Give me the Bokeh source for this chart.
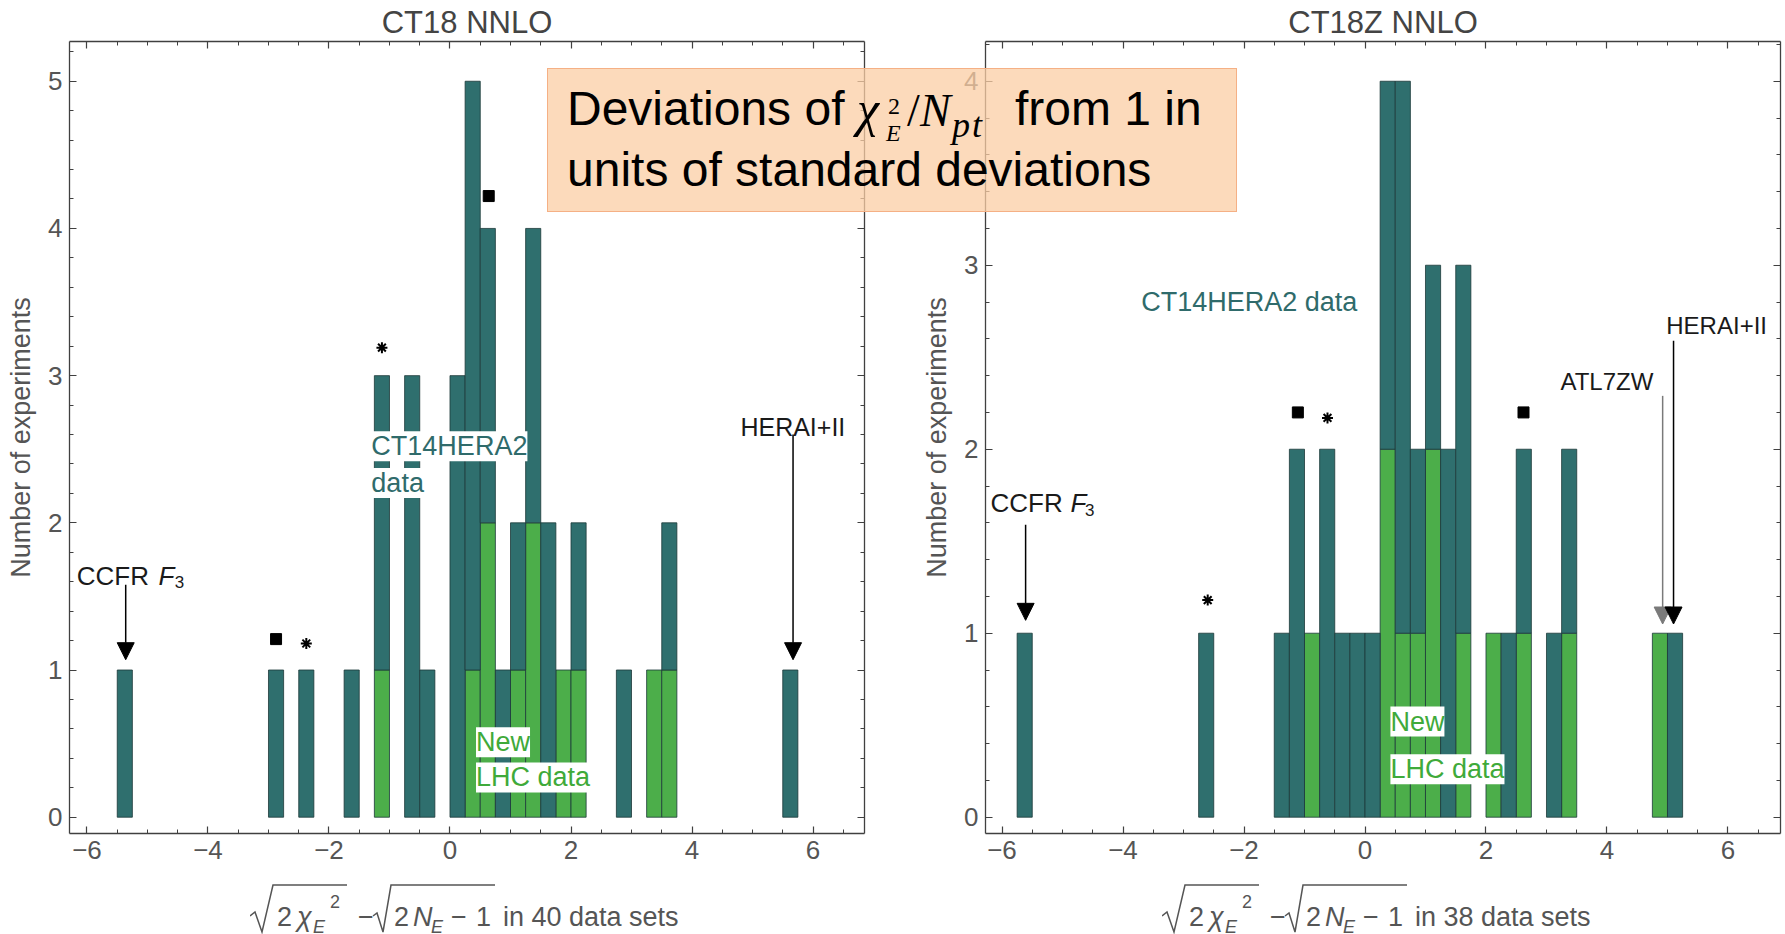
import numpy as np
from bokeh.plotting import figure
from bokeh.models import (LinearAxis, Range1d, Label, Arrow, NormalHead, Div,
                          SingleIntervalTicker, ColumnDataSource)
from bokeh.layouts import row
from bokeh.embed import file_html
from bokeh.resources import INLINE

# ---------------- data ----------------
BIN_WIDTH = 0.25

# CT18 NNLO : left edge of each 0.25-wide bin, number of experiments, of which new LHC data
ct18_bin_left = [-5.5, -3.0, -2.5, -1.75, -1.25, -0.75, -0.5, 0.0, 0.25, 0.5,
                 0.75, 1.0, 1.25, 1.5, 1.75, 2.0, 2.75, 3.25, 3.5, 5.5]
ct18_total = [1, 1, 1, 1, 3, 3, 1, 3, 5, 4, 1, 2, 4, 2, 1, 2, 1, 1, 2, 1]
ct18_new_lhc = [0, 0, 0, 0, 1, 0, 0, 0, 1, 2, 0, 1, 2, 0, 1, 1, 0, 1, 1, 0]
ct18_square_x = [-2.875, 0.64]
ct18_square_y = [1.21, 4.22]
ct18_star_x = [-2.375, -1.125]
ct18_star_y = [1.18, 3.19]

# CT18Z NNLO
ct18z_bin_left = [-5.75, -2.75, -1.5, -1.25, -1.0, -0.75, -0.5, -0.25, 0.0, 0.25, 0.5,
                  0.75, 1.0, 1.25, 1.5, 2.0, 2.25, 2.5, 3.0, 3.25, 4.75, 5.0]
ct18z_total = [1, 1, 1, 2, 1, 2, 1, 1, 1, 4, 4, 2, 3, 2, 3, 1, 1, 2, 1, 2, 1, 1]
ct18z_new_lhc = [0, 0, 0, 0, 1, 0, 0, 0, 0, 2, 1, 1, 2, 0, 1, 1, 0, 1, 0, 1, 1, 0]
ct18z_square_x = [-1.11, 2.62]
ct18z_square_y = [2.2, 2.2]
ct18z_star_x = [-2.6, -0.62]
ct18z_star_y = [1.18, 2.17]

# annotation texts: (text, x, y, size, color, italic, white background)
ct18_texts = [
    ("CCFR", -6.17, 1.64, 26, "#1a1a1a", False, False),
    ("F", -4.82, 1.64, 26, "#1a1a1a", True, False),
    ("3", -4.55, 1.60, 17, "#1a1a1a", False, False),
    ("HERAI+II", 4.80, 2.65, 25, "#1a1a1a", False, False),
    ("CT14HERA2", -1.30, 2.52, 27, "#2f6b6b", False, True),
    ("data", -1.30, 2.27, 27, "#2f6b6b", False, True),
    ("New", 0.43, 0.51, 27, "#3faa3a", False, True),
    ("LHC data", 0.43, 0.27, 27, "#3faa3a", False, True),
]
ct18_arrows = [(-5.36, 1.58, 1.07, "black"), (5.67, 2.60, 1.07, "black")]

ct18z_texts = [
    ("CCFR", -6.19, 1.71, 26, "#1a1a1a", False, False),
    ("F", -4.87, 1.71, 26, "#1a1a1a", True, False),
    ("3", -4.63, 1.67, 17, "#1a1a1a", False, False),
    ("ATL7ZW", 3.23, 2.37, 24, "#1a1a1a", False, False),
    ("HERAI+II", 4.98, 2.67, 24, "#1a1a1a", False, False),
    ("CT14HERA2 data", -3.70, 2.80, 27, "#2f6b6b", False, False),
    ("New", 0.42, 0.52, 27, "#3faa3a", False, True),
    ("LHC data", 0.42, 0.26, 27, "#3faa3a", False, True),
]
ct18z_arrows = [(-5.61, 1.59, 1.07, "black"), (4.92, 2.29, 1.05, "#7a7a7a"),
                (5.10, 2.59, 1.05, "black")]

# ---------------- style ----------------
TEAL = "#2f6f6e"
GREEN = "#4cae4a"
EDGE = "#1d3a3a"
FONT = "Liberation Sans"
AXC = "#404040"
LBL = "#555555"
H = 934
FT, FB = 41, 833          # frame top / bottom in page pixels


def style_axis(ax, labels=True):
    ax.major_tick_in = 7
    ax.major_tick_out = 0
    ax.minor_tick_in = 4
    ax.minor_tick_out = 0
    ax.axis_line_color = AXC
    ax.axis_line_width = 1.3
    ax.major_tick_line_color = AXC
    ax.minor_tick_line_color = AXC
    ax.major_tick_line_width = 1.2
    if labels:
        ax.major_label_text_font = FONT
        ax.major_label_text_font_size = "26px"
        ax.major_label_text_color = LBL
        ax.major_label_standoff = 7
    else:
        ax.major_label_text_font_size = "1px"
        ax.major_label_text_color = None
        ax.major_label_standoff = 0


def make_panel(cfg):
    xr, yr = cfg["xr"], cfg["yr"]
    p = figure(width=cfg["w"], height=H, x_range=Range1d(*xr), y_range=Range1d(*yr),
               output_backend="svg", toolbar_location=None, tools="",
               min_border_left=cfg["mbl"], min_border_right=cfg["mbr"],
               min_border_top=FT, min_border_bottom=H - FB,
               background_fill_color="white", border_fill_color="white",
               outline_line_color=None)
    p.grid.visible = False

    p.xaxis[0].ticker = SingleIntervalTicker(interval=2, num_minor_ticks=4)
    p.yaxis[0].ticker = SingleIntervalTicker(interval=1, num_minor_ticks=5)
    style_axis(p.xaxis[0])
    style_axis(p.yaxis[0])
    p.xaxis[0].axis_label = None
    ya = p.yaxis[0]
    ya.axis_label = "Number of experiments"
    ya.axis_label_text_font = FONT
    ya.axis_label_text_font_size = "27px"
    ya.axis_label_text_font_style = "normal"
    ya.axis_label_text_color = LBL
    ya.axis_label_standoff = 9

    top = LinearAxis(ticker=SingleIntervalTicker(interval=2, num_minor_ticks=4))
    style_axis(top, labels=False)
    p.add_layout(top, "above")
    rgt = LinearAxis(ticker=SingleIntervalTicker(interval=1, num_minor_ticks=5))
    style_axis(rgt, labels=False)
    p.add_layout(rgt, "right")

    p.title.text = cfg["title"]
    p.title.align = "center"
    p.title.text_font = FONT
    p.title.text_font_size = "31px"
    p.title.text_font_style = "normal"
    p.title.text_color = "#444444"
    p.title.standoff = 3

    # bars: new LHC data at the bottom, CT14HERA2 data stacked on top
    left = np.array(cfg["bins"], dtype=float)
    total = np.array(cfg["total"], dtype=float)
    new = np.array(cfg["new"], dtype=float)
    m_new = new > 0
    m_old = total > new
    src_new = ColumnDataSource(dict(left=left[m_new], right=left[m_new] + BIN_WIDTH,
                                    top=new[m_new]))
    src_old = ColumnDataSource(dict(left=left[m_old], right=left[m_old] + BIN_WIDTH,
                                    bottom=new[m_old], top=total[m_old]))
    p.quad(left="left", right="right", bottom=0, top="top", source=src_new,
           fill_color=GREEN, line_color=EDGE, line_width=1, line_alpha=0.8)
    p.quad(left="left", right="right", bottom="bottom", top="top", source=src_old,
           fill_color=TEAL, line_color=EDGE, line_width=1, line_alpha=0.8)

    # markers
    p.scatter(cfg["sq_x"], cfg["sq_y"], marker="square", size=11,
              fill_color="black", line_color="black")
    p.scatter(cfg["st_x"], cfg["st_y"], marker="asterisk", size=11,
              line_color="black", line_width=2)

    # texts
    for (t, x, y, s, c, it, bg) in cfg["texts"]:
        lab = Label(x=x, y=y, text=t, text_font=FONT, text_font_size=f"{s}px",
                    text_color=c, text_baseline="alphabetic", text_align="left",
                    text_font_style="italic" if it else "normal")
        if bg:
            lab.background_fill_color = "white"
            lab.background_fill_alpha = 1.0
        p.add_layout(lab)

    # arrows
    for (x, y0, y1, c) in cfg["arrows"]:
        p.add_layout(Arrow(end=NormalHead(size=17, fill_color=c, line_color=c),
                           x_start=x, y_start=y0, x_end=x, y_end=y1,
                           line_color=c, line_width=1.5))
    return p


left_cfg = dict(title="CT18 NNLO", w=915, mbl=69, mbr=51,
                xr=(-6.289, 6.851), yr=(-0.1107, 5.270),
                bins=ct18_bin_left, total=ct18_total, new=ct18_new_lhc,
                sq_x=ct18_square_x, sq_y=ct18_square_y,
                st_x=ct18_star_x, st_y=ct18_star_y,
                texts=ct18_texts, arrows=ct18_arrows)
right_cfg = dict(title="CT18Z NNLO", w=870, mbl=70, mbr=5,
                 xr=(-6.273, 6.868), yr=(-0.0886, 4.216),
                 bins=ct18z_bin_left, total=ct18z_total, new=ct18z_new_lhc,
                 sq_x=ct18z_square_x, sq_y=ct18z_square_y,
                 st_x=ct18z_star_x, st_y=ct18z_star_y,
                 texts=ct18z_texts, arrows=ct18z_arrows)

p1 = make_panel(left_cfg)
p2 = make_panel(right_cfg)

# ---------------- HTML overlay: caption box and x-axis formulas ----------------
SANS = "'Liberation Sans', Arial, sans-serif"
SERIF = "'Liberation Serif', 'Times New Roman', serif"


def span(txt, left, baseline, fs, fam, italic=False, color="#000", extra=""):
    asc = 0.846 if fam == SANS else 0.838
    top = baseline - asc * fs
    st = "font-style:italic;" if italic else ""
    return (f'<span style="position:absolute;left:{left}px;top:{top:.1f}px;'
            f'font-size:{fs}px;line-height:1;font-family:{fam};{st}'
            f'white-space:nowrap;color:{color};{extra}">{txt}</span>')


caption_inner = "".join([
    span("Deviations of", 19, 57, 48, SANS),
    span("χ", 309, 57, 50, SERIF, True),
    span("2", 340, 45, 24, SERIF),
    span("E", 338, 72, 24, SERIF, True),
    span("/", 359, 57, 46, SERIF),
    span("N", 372, 57, 46, SERIF, True),
    span("pt", 404, 68, 36, SERIF, True, extra="letter-spacing:2px;"),
    span("from 1 in", 467, 57, 48, SANS),
    span("units of standard deviations", 19, 118, 48, SANS),
])
caption_html = ('<div style="position:absolute;left:547px;top:68px;width:690px;height:144px;'
                'box-sizing:border-box;background:rgba(251,205,164,0.75);'
                'border:1.5px solid #f5b085;">' + caption_inner + '</div>')


def xlabel_html(x0, tail):
    ctop = 868
    b = 927 - ctop
    parts = [
        ("2", 27, b, 27, False), ("χ", 47, b, 27, True), ("E", 63, b + 6, 18, True),
        ("2", 80, b - 19, 18, False), ("−", 108, b, 27, False), ("2", 144, b, 27, False),
        ("N", 163, b, 27, True), ("E", 181, b + 6, 18, True), ("−", 201, b, 27, False),
        ("1", 226, b, 27, False), (tail, 253, b, 27, False),
    ]
    inner = "".join(span(t, dx, by, fs, SANS, it, color=LBL) for (t, dx, by, fs, it) in parts)
    rad = [[(0, 48), (5, 44), (12, 64), (23, 17), (97, 17)],
           [(123, 48), (127, 45), (133, 64), (141, 17), (245, 17)]]
    polys = "".join(
        '<polyline points="' + " ".join(f"{a},{c}" for a, c in pts) +
        f'" fill="none" stroke="{LBL}" stroke-width="1.5" stroke-linejoin="miter"/>'
        for pts in rad)
    svg = (f'<svg width="460" height="66" style="position:absolute;left:0;top:0;" '
           f'xmlns="http://www.w3.org/2000/svg">{polys}</svg>')
    return (f'<div style="position:absolute;left:{x0}px;top:{ctop}px;width:460px;height:66px;">'
            + svg + inner + '</div>')


overlay_html = ('<div style="position:relative;width:1785px;height:934px;">'
                + caption_html
                + xlabel_html(250, "in 40 data sets")
                + xlabel_html(1162, "in 38 data sets")
                + '</div>')
overlay = Div(text=overlay_html, width=1785, height=934, margin=0,
              styles={"position": "absolute", "left": "0px", "top": "0px",
                      "z-index": "10", "pointer-events": "none"})

layout = row(p1, p2, overlay)
open("out.html", "w").write(file_html(layout, INLINE))
